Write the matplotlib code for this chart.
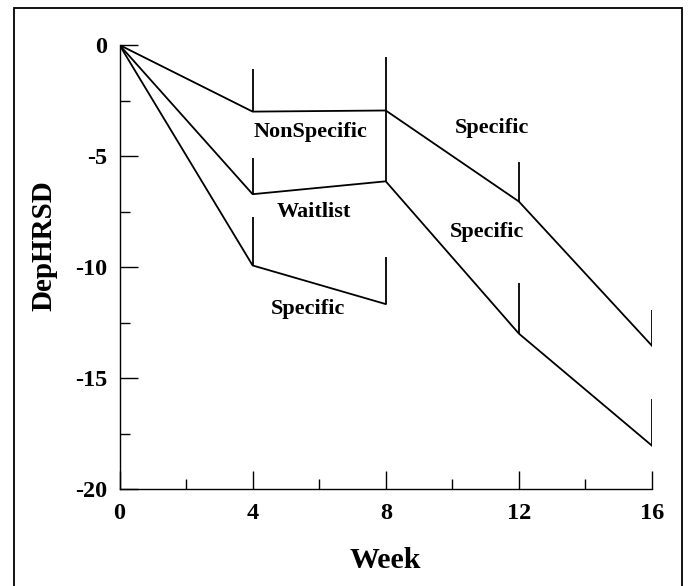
import matplotlib.pyplot as plt
from matplotlib.patches import Rectangle
from matplotlib.ticker import MultipleLocator

plt.rcParams["font.family"] = ["Liberation Serif", "DejaVu Serif"]
plt.rcParams["font.weight"] = "bold"
plt.rcParams["axes.unicode_minus"] = False

# group means (DepHRSD change) and upper error bar ends
weeks_ns = [0, 4, 8, 12, 16]
nonspec = [0, -3.0, -2.95, -7.05, -13.55]
nonspec_hi = [None, -1.1, -0.55, -5.25, -11.95]

weeks_wl = [0, 4, 8, 12, 16]
waitlist = [0, -6.72, -6.14, -13.0, -18.05]
waitlist_hi = [None, -5.1, -2.95, -10.7, -15.95]

weeks_sp = [0, 4, 8]
specific = [0, -9.93, -11.67]
specific_hi = [None, -7.75, -9.55]

labels = ["NonSpecific", "Waitlist", "Specific", "Specific", "Specific"]
label_x = [5.75, 5.84, 5.67, 11.18, 11.05]
label_y = [-3.92, -7.5, -11.9, -3.72, -8.42]

fig = plt.figure(figsize=(6.88, 5.86), dpi=100)
ax = fig.add_axes([0.1737, 0.1655, 0.9477 - 0.1737, 0.9232 - 0.1655])

for xs, ys, hi in [(weeks_ns, nonspec, nonspec_hi),
                   (weeks_wl, waitlist, waitlist_hi),
                   (weeks_sp, specific, specific_hi)]:
    ax.plot(xs, ys, color="black", lw=1.3)
    for x, y, h in zip(xs, ys, hi):
        if h is not None:
            ax.vlines(x, y, h, color="black", lw=1.3)

for t, x, y in zip(labels, label_x, label_y):
    ax.text(x, y, t, ha="center", va="center", fontsize=16, fontweight="bold")

ax.set_xlim(0, 16)
ax.set_ylim(-20, 0)
ax.xaxis.set_major_locator(MultipleLocator(4))
ax.xaxis.set_minor_locator(MultipleLocator(2))
ax.yaxis.set_major_locator(MultipleLocator(5))
ax.yaxis.set_minor_locator(MultipleLocator(2.5))
ax.tick_params(which="both", direction="in", width=1.0, labelsize=17.5)
ax.tick_params(which="major", length=13)
ax.tick_params(which="minor", length=7)
ax.tick_params(axis="x", pad=10)
ax.tick_params(axis="y", pad=9)
for lab in ax.get_xticklabels() + ax.get_yticklabels():
    lab.set_fontweight("bold")

ax.spines["top"].set_visible(False)
ax.spines["right"].set_visible(False)
ax.spines["left"].set_linewidth(1.0)
ax.spines["bottom"].set_linewidth(1.0)

fig.text(44 / 688, 1 - 246 / 586, "DepHRSD", rotation=90, ha="center",
         va="center", fontsize=21, fontweight="bold")
fig.text(385.7 / 688, 1 - 561 / 586, "Week", ha="center", va="center",
         fontsize=21.5, fontweight="bold")

# outer frame
fig.patches.append(Rectangle((14 / 688, -0.02), (682 - 14) / 688, 1.02 - 8 / 586,
                             transform=fig.transFigure, fill=False,
                             edgecolor="black", lw=1.3))

fig.savefig("out.png", dpi=100)
